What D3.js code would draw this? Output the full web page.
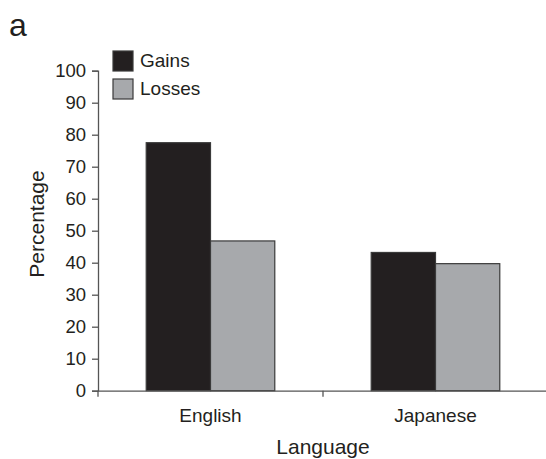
<!DOCTYPE html>
<html>
<head>
<meta charset="utf-8">
<script src="https://cdn.jsdelivr.net/npm/d3@7"></script>
<style>
  body { margin: 0; background: #fff; }
  text { font-family: "Liberation Sans", Arial, sans-serif; fill: #231f20; }
</style>
</head>
<body>
<div id="chart"></div>
<script>
var languages = ["English", "Japanese"];
var series = ["Gains", "Losses"];
var gains = [77.5, 43.2];
var losses = [46.8, 39.7];
var yTicks = [0, 10, 20, 30, 40, 50, 60, 70, 80, 90, 100];
var colors = ["#231f20", "#a7a9ac"];

var width = 546;
var height = 459;
var margin = { top: 70.7, left: 98, bottom: 68.3 };

var svg = d3.select('#chart')
            .append('svg')
            .attr('width', width)
            .attr('height', height);

var x0 = d3.scaleBand()
           .domain(languages)
           .range([margin.left, 548])
           .paddingInner(0)
           .paddingOuter(0);

var x1 = d3.scaleBand()
           .domain(series)
           .range([0, x0.bandwidth()])
           .paddingInner(0)
           .paddingOuter(0.75);

var yScale = d3.scaleLinear()
               .domain([0, 100])
               .range([height - margin.bottom, margin.top]);

// bars
var rows = languages.map(function(l, i){
  return { lang: l, values: [gains[i], losses[i]] };
});

var groups = svg.selectAll('.grp')
                .data(rows)
                .enter()
                .append('g')
                .attr('transform', function(d){ return 'translate(' + x0(d.lang) + ',0)'; });

groups.selectAll('rect')
      .data(function(d){ return d.values.map(function(v, j){ return { s: series[j], v: v, j: j }; }); })
      .enter()
      .append('rect')
      .attr('x', function(d){ return x1(d.s); })
      .attr('y', function(d){ return yScale(d.v); })
      .attr('width', x1.bandwidth())
      .attr('height', function(d){ return yScale(0) - yScale(d.v); })
      .attr('fill', function(d){ return colors[d.j]; })
      .attr('stroke', '#3a3a3a')
      .attr('stroke-width', 1.2);

// y axis
var yAxis = d3.axisLeft(yScale)
              .tickValues(yTicks)
              .tickSize(6)
              .tickPadding(6);

var yG = svg.append('g')
            .attr('transform', 'translate(' + margin.left + ',0)')
            .call(yAxis);
yG.select('.domain').attr('stroke', '#555').attr('stroke-width', 1.3);
yG.selectAll('.tick line').attr('stroke', '#555').attr('stroke-width', 1.3);
yG.selectAll('.tick text')
  .style('font-size', '18.5px')
  .attr('fill', '#231f20')
  .attr('font-family', '"Liberation Sans", Arial, sans-serif');

// x axis
var xAxis = d3.axisBottom(x0)
              .tickSize(0)
              .tickPadding(18);

var xG = svg.append('g')
            .attr('transform', 'translate(0,' + yScale(0) + ')')
            .call(xAxis);
xG.select('.domain').attr('stroke', '#555').attr('stroke-width', 1.3);
xG.selectAll('.tick text')
  .style('font-size', '19px')
  .attr('fill', '#231f20')
  .attr('font-family', '"Liberation Sans", Arial, sans-serif');

// boundary ticks between categories
var bounds = languages.map(function(l){ return x0(l); });
xG.selectAll('.bound')
  .data(bounds)
  .enter()
  .append('line')
  .attr('x1', function(d){ return d; })
  .attr('x2', function(d){ return d; })
  .attr('y1', 0)
  .attr('y2', 6)
  .attr('stroke', '#555')
  .attr('stroke-width', 1.3);

// axis titles
svg.append('text')
   .attr('x', (x0.range()[0] + x0.range()[1]) / 2)
   .attr('y', 454)
   .attr('text-anchor', 'middle')
   .style('font-size', '21px')
   .text('Language');

svg.append('text')
   .attr('transform', 'translate(44,224) rotate(-90)')
   .attr('text-anchor', 'middle')
   .style('font-size', '21px')
   .text('Percentage');

// panel letter
svg.append('text')
   .attr('x', 9)
   .attr('y', 36)
   .style('font-size', '32px')
   .text('a');

// legend
var legend = svg.selectAll('.leg')
                .data(series)
                .enter()
                .append('g')
                .attr('transform', function(d, i){ return 'translate(113,' + (51 + i * 28) + ')'; });

legend.append('rect')
      .attr('width', 20)
      .attr('height', 20)
      .attr('fill', function(d, i){ return colors[i]; })
      .attr('stroke', '#3a3a3a')
      .attr('stroke-width', 1.2);

legend.append('text')
      .attr('x', 27)
      .attr('y', 16)
      .style('font-size', '19px')
      .text(function(d){ return d; });
</script>
</body>
</html>
